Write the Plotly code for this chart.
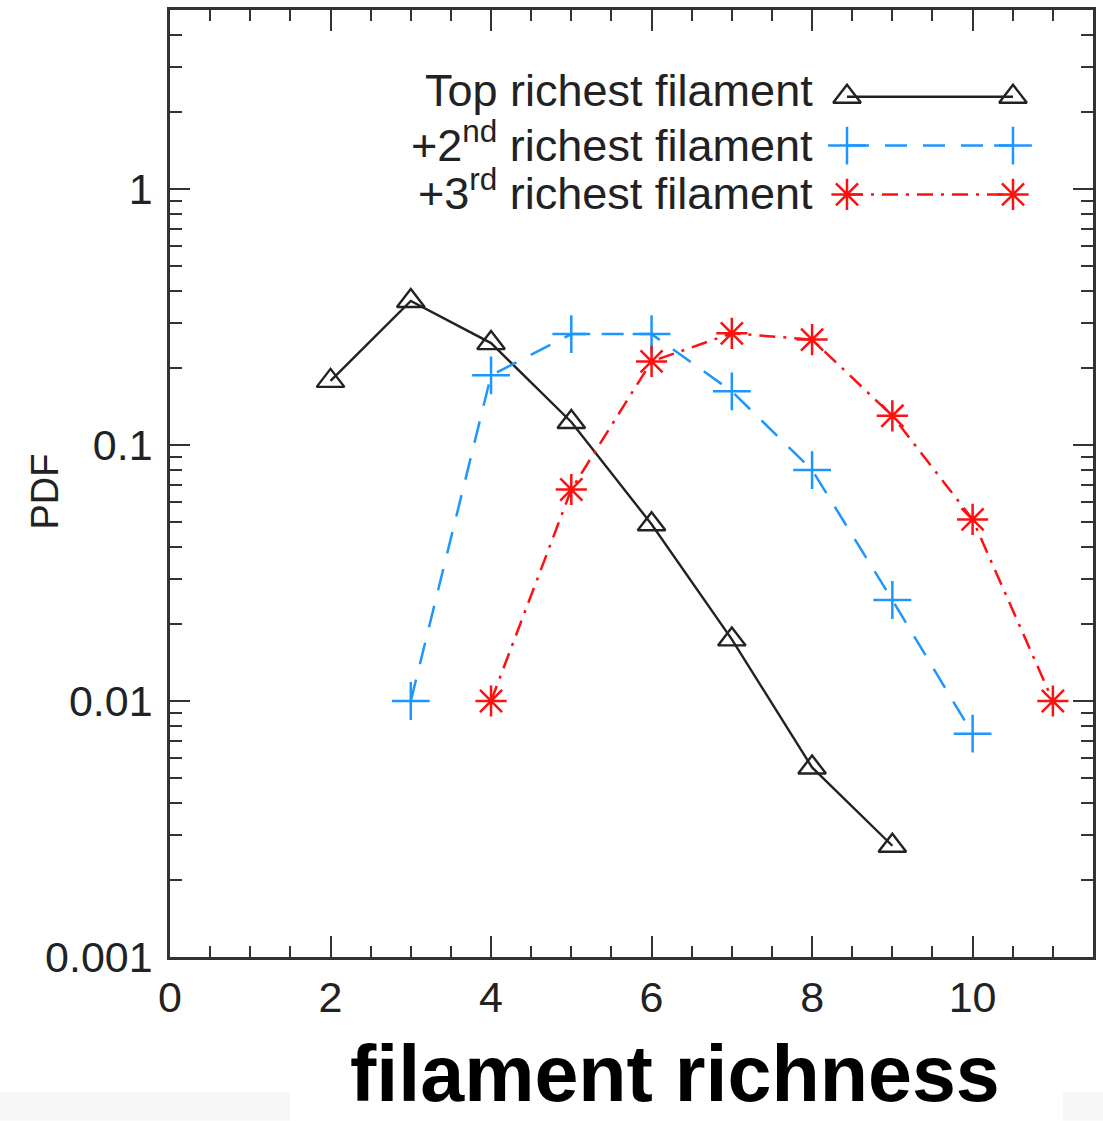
import plotly.graph_objects as go

# ---- data ----
richness_top = [2, 3, 4, 5, 6, 7, 8, 9]
pdf_top = [0.178, 0.365, 0.25, 0.123, 0.049, 0.0174, 0.0055, 0.00272]

richness_2nd = [3, 4, 5, 6, 7, 8, 9, 10]
pdf_2nd = [0.01, 0.187, 0.271, 0.271, 0.162, 0.0798, 0.0248, 0.00745]

richness_3rd = [4, 5, 6, 7, 8, 9, 10, 11]
pdf_3rd = [0.01, 0.067, 0.212, 0.273, 0.258, 0.13, 0.0512, 0.01]

series_names = ["Top richest filament",
                "+2<sup>nd</sup> richest filament",
                "+3<sup>rd</sup> richest filament"]

x_tickvals = [0, 2, 4, 6, 8, 10]
y_tickvals = [0.001, 0.01, 0.1, 1]
y_ticktext = ["0.001", "0.01", "0.1", "1"]
y_minor = [m * 10.0 ** e for e in (-3, -2, -1, 0) for m in range(2, 10) if m * 10.0 ** e <= 5]

# ---- styles ----
W, H = 1103, 1121
L, R, T, B = 170, 10, 7, 164
pw, ph = W - L - R, H - T - B
FONT = "Liberation Sans, Arial, Helvetica, sans-serif"
BLACK = "#222222"
BLUE = "#1E96FF"
RED = "#FF1010"

styles = [
    dict(color=BLACK, dash="solid", symbol="triangle-up-open", size=24, lw=2.4),
    dict(color=BLUE, dash="22px,16px", symbol="cross-thin-open", size=27, lw=2.5),
    dict(color=RED, dash="16px,8px,3px,8px", symbol="asterisk-open", size=26, lw=2.5),
]

def px_x(px):
    return (px - L) / pw

def px_y(py):
    return (H - B - py) / ph

fig = go.Figure()

for xs, ys, name, st in zip([richness_top, richness_2nd, richness_3rd],
                            [pdf_top, pdf_2nd, pdf_3rd], series_names, styles):
    fig.add_trace(go.Scatter(
        x=xs, y=ys, mode="lines+markers", name=name, showlegend=False,
        line=dict(color=st["color"], width=st["lw"], dash=st["dash"]),
        marker=dict(symbol=st["symbol"], size=st["size"],
                    color=st["color"], line=dict(color=st["color"], width=st["lw"])),
    ))

# ---- manual legend (text left, key right), on an overlay axis in [0,1] ----
legend_rows_py = [94, 143, 192]
legend_text_py = [88, 139, 188]
key_x0, key_x1 = 847, 1013
text_right = 815
for name, st, py, ty in zip(series_names, styles, legend_rows_py, legend_text_py):
    fig.add_trace(go.Scatter(
        x=[px_x(key_x0), px_x(key_x1)], y=[px_y(py), px_y(py)],
        xaxis="x2", yaxis="y2", mode="lines+markers", showlegend=False, hoverinfo="skip",
        line=dict(color=st["color"], width=st["lw"], dash=st["dash"]),
        marker=dict(symbol=st["symbol"], size=st["size"],
                    color=st["color"], line=dict(color=st["color"], width=st["lw"])),
    ))
    fig.add_annotation(
        xref="paper", yref="paper", x=px_x(text_right), y=px_y(ty),
        xanchor="right", yanchor="middle", showarrow=False, text=name,
        font=dict(family=FONT, size=45, color=BLACK),
    )

# axis titles
fig.add_annotation(xref="paper", yref="paper", x=px_x(45), y=px_y(490),
                   xanchor="center", yanchor="middle", textangle=-90, showarrow=False,
                   text="PDF", font=dict(family=FONT, size=38, color=BLACK))
fig.add_annotation(xref="paper", yref="paper", x=px_x(675), y=px_y(1121),
                   xanchor="center", yanchor="bottom", showarrow=False,
                   text="<b>filament richness</b>", font=dict(family=FONT, size=79, color="black"))

# faint grey boxes at the bottom edge of the picture
for x0, x1 in [(0, 290), (1063, 1103)]:
    fig.add_shape(type="rect", xref="paper", yref="paper",
                  x0=px_x(x0), x1=px_x(x1), y0=px_y(1121), y1=px_y(1093),
                  fillcolor="#f6f6f6", line=dict(width=0), layer="below")

axis_common = dict(showline=True, linecolor="#333333", linewidth=2.5, mirror="allticks",
                   ticks="inside", tickcolor="#333333", tickwidth=2.2, showgrid=False,
                   zeroline=False, tickfont=dict(family=FONT, size=43, color=BLACK))

fig.update_layout(
    width=W, height=H,
    margin=dict(l=L, r=R, t=T, b=B),
    plot_bgcolor="white", paper_bgcolor="white",
    xaxis=dict(range=[0, 11.5], tickvals=x_tickvals, ticklen=21,
               minor=dict(dtick=0.5, ticks="inside", ticklen=11, tickcolor="#333333", tickwidth=2),
               ticklabelstandoff=1, **axis_common),
    yaxis=dict(type="log", range=[-3, 0.699], tickvals=y_tickvals, ticktext=y_ticktext,
               ticklen=20, ticklabelstandoff=6,
               minor=dict(tickvals=y_minor, ticks="inside", ticklen=12, tickcolor="#333333", tickwidth=2),
               **axis_common),
    xaxis2=dict(range=[0, 1], overlaying="x", visible=False),
    yaxis2=dict(range=[0, 1], overlaying="y", visible=False),
)

fig.write_html("out.html")
